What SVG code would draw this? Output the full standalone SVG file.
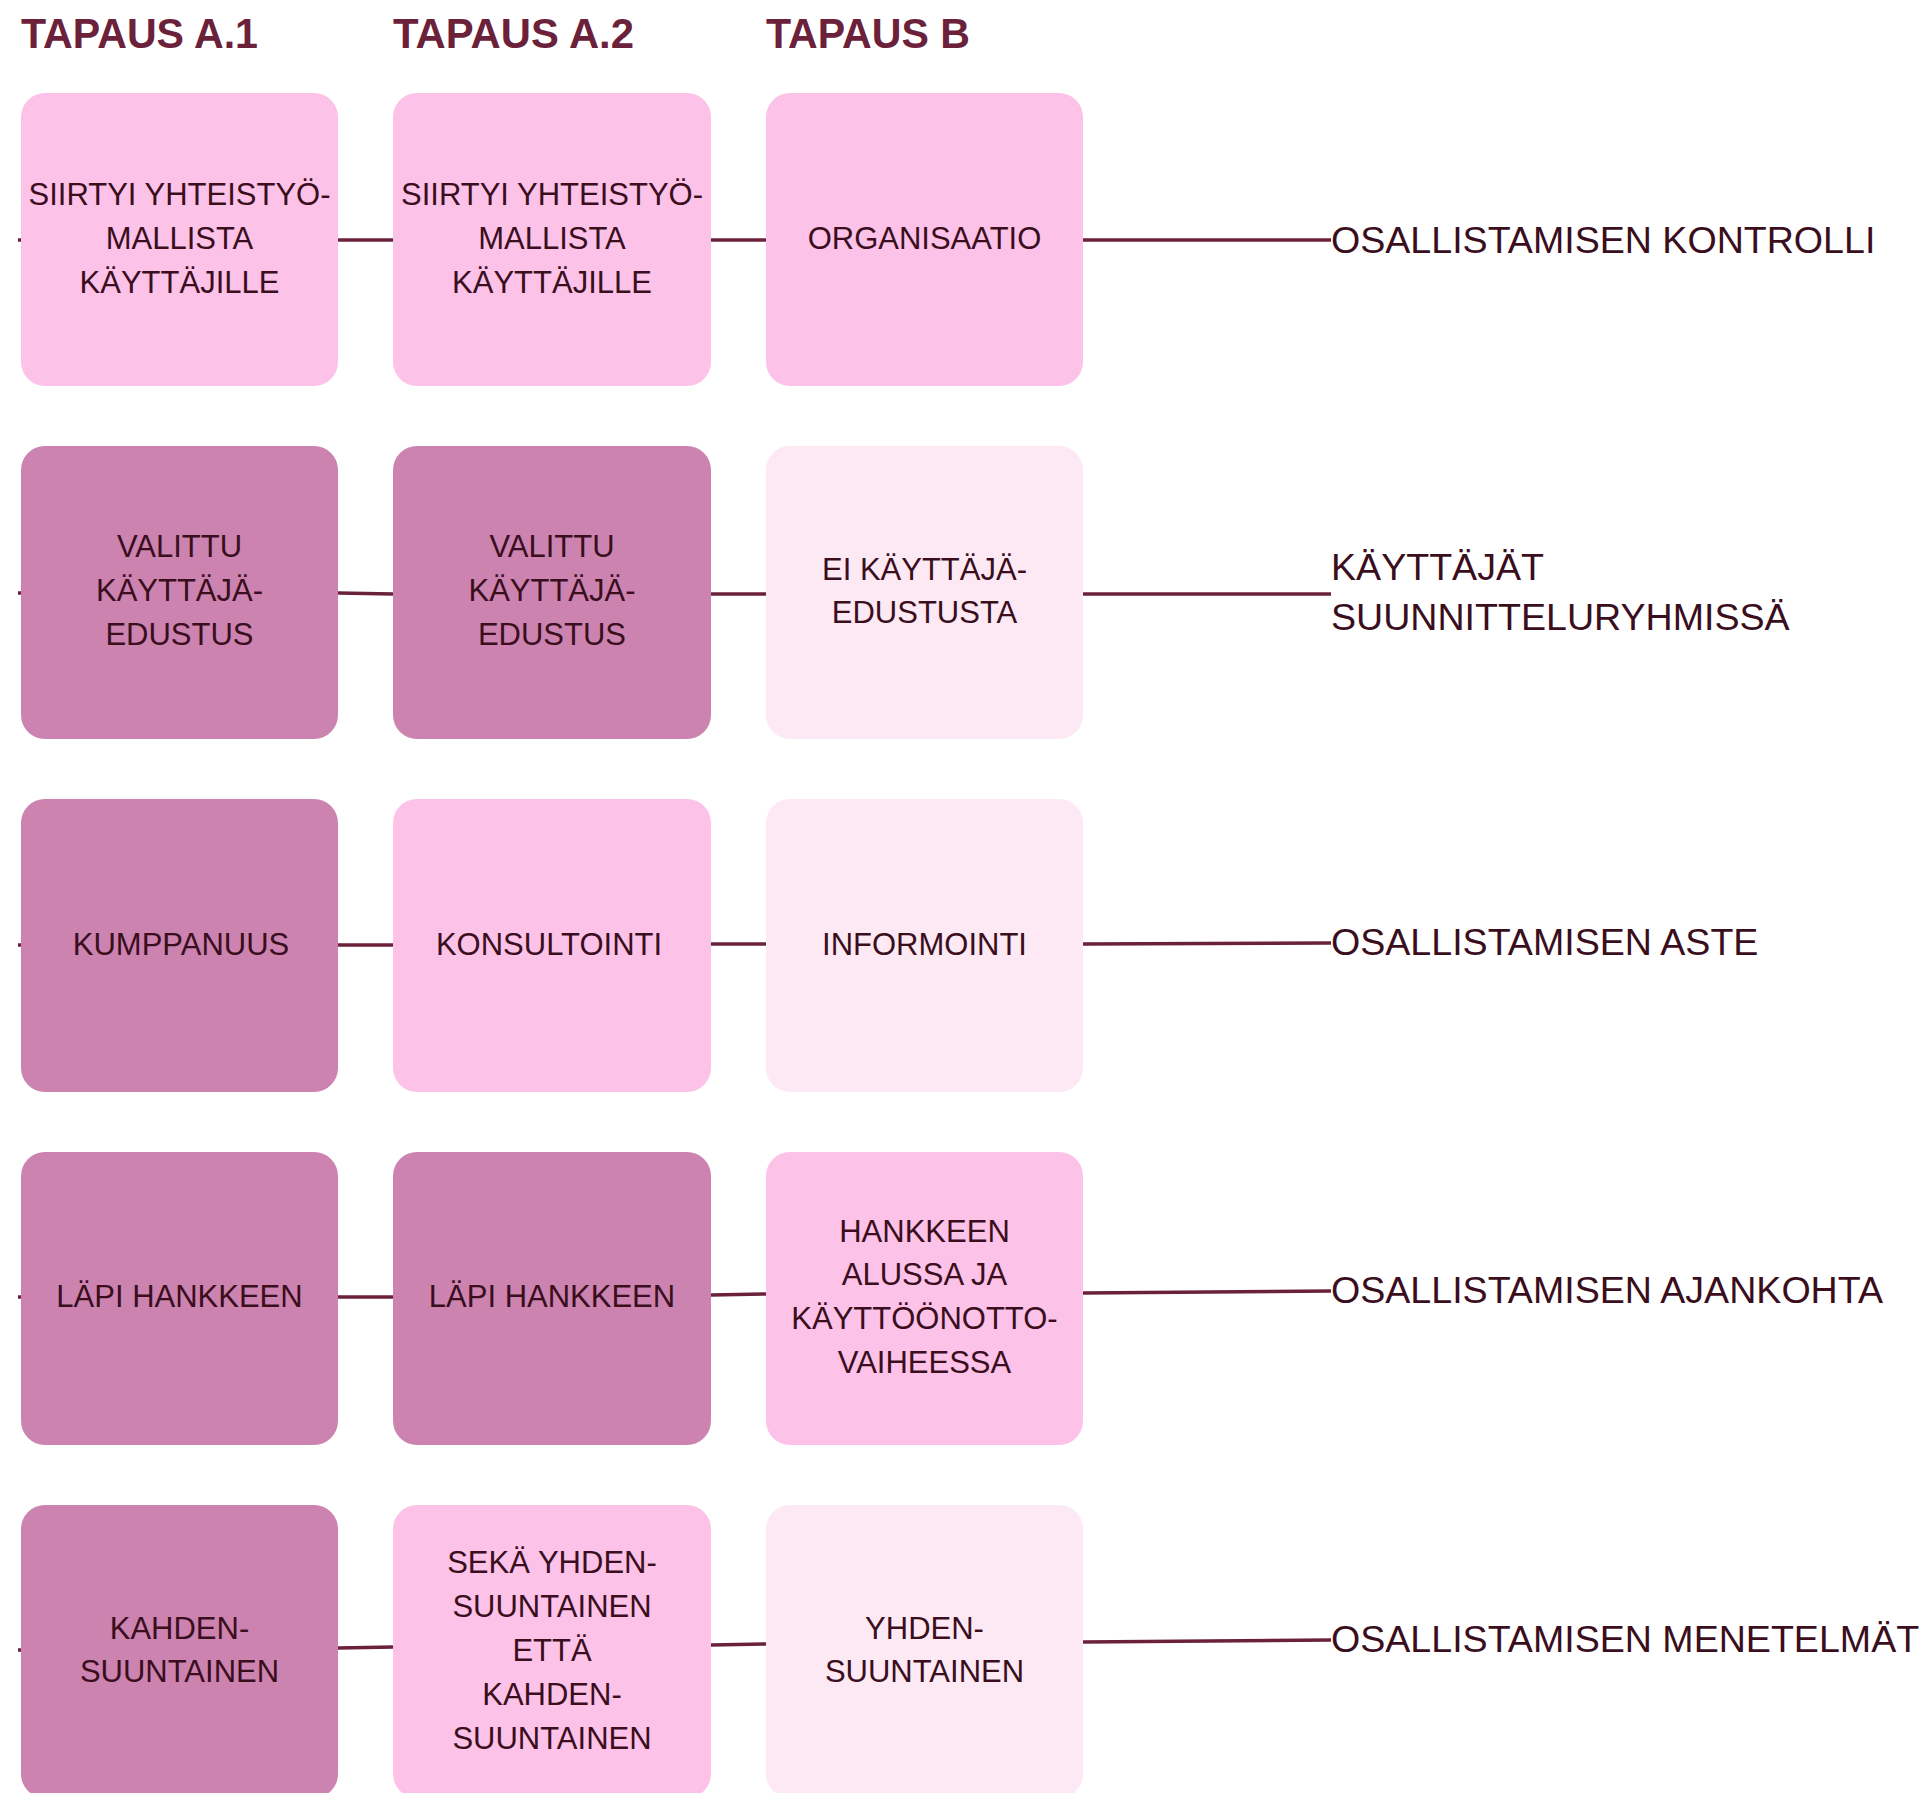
<svg xmlns="http://www.w3.org/2000/svg" width="1928" height="1793" viewBox="0 0 1928 1793">
  <style>
    .title { font-family: "Liberation Sans", Arial, sans-serif; font-weight: bold; font-size: 43px; fill: #6b2139; }
    .box { stroke: none; }
    .dark { fill: #cc83b0; }
    .mid { fill: #fdc2e8; }
    .light { fill: #fde9f4; }
    .t { font-family: "Liberation Sans", Arial, sans-serif; font-size: 31px; fill: #3a0e1d; text-anchor: middle; }
    .lab { font-family: "Liberation Sans", Arial, sans-serif; font-size: 37.6px; fill: #3a0e1d; }
    .conn line { stroke: #6b2139; stroke-width: 3.5; stroke-linecap: butt; }
  </style>
  <rect width="1928" height="1793" fill="#ffffff"/>

  <!-- column headings -->
  <g id="headings">
    <text class="title" x="21" y="48" textLength="237" lengthAdjust="spacingAndGlyphs">TAPAUS A.1</text>
    <text class="title" x="393" y="48" textLength="241" lengthAdjust="spacingAndGlyphs">TAPAUS A.2</text>
    <text class="title" x="766" y="48" textLength="204" lengthAdjust="spacingAndGlyphs">TAPAUS B</text>
  </g>

  <!-- connectors -->
  <g class="conn" id="connectors">
    <line x1="18" y1="240" x2="21" y2="240"/>
    <line x1="338" y1="240" x2="393" y2="240"/>
    <line x1="711" y1="240" x2="766" y2="240"/>
    <line x1="1083" y1="240" x2="1331" y2="240"/>

    <line x1="18" y1="593" x2="21" y2="593"/>
    <line x1="338" y1="593" x2="393" y2="594"/>
    <line x1="711" y1="594" x2="766" y2="594"/>
    <line x1="1083" y1="594" x2="1331" y2="594"/>

    <line x1="18" y1="945" x2="21" y2="945"/>
    <line x1="338" y1="945" x2="393" y2="945"/>
    <line x1="711" y1="944" x2="766" y2="944"/>
    <line x1="1083" y1="944" x2="1331" y2="943"/>

    <line x1="18" y1="1297" x2="21" y2="1297"/>
    <line x1="338" y1="1297" x2="393" y2="1297"/>
    <line x1="711" y1="1295" x2="766" y2="1294"/>
    <line x1="1083" y1="1293" x2="1331" y2="1291"/>

    <line x1="18" y1="1650" x2="21" y2="1650"/>
    <line x1="338" y1="1648" x2="393" y2="1647"/>
    <line x1="711" y1="1645" x2="766" y2="1644"/>
    <line x1="1083" y1="1642" x2="1331" y2="1640"/>
  </g>

  <!-- row 1 -->
  <g id="a1-kontrolli">
    <rect class="box mid" x="21" y="93" width="317" height="293" rx="24"/>
    <text class="t" x="179.5" y="205">SIIRTYI YHTEISTYÖ-</text>
    <text class="t" x="179.5" y="249">MALLISTA</text>
    <text class="t" x="179.5" y="293">KÄYTTÄJILLE</text>
  </g>
  <g id="a2-kontrolli">
    <rect class="box mid" x="393" y="93" width="318" height="293" rx="24"/>
    <text class="t" x="552" y="205">SIIRTYI YHTEISTYÖ-</text>
    <text class="t" x="552" y="249">MALLISTA</text>
    <text class="t" x="552" y="293">KÄYTTÄJILLE</text>
  </g>
  <g id="b-kontrolli">
    <rect class="box mid" x="766" y="93" width="317" height="293" rx="24"/>
    <text class="t" x="924.5" y="249">ORGANISAATIO</text>
  </g>
  <g id="label-kontrolli">
    <text class="lab" x="1331" y="253">OSALLISTAMISEN KONTROLLI</text>
  </g>

  <!-- row 2 -->
  <g id="a1-ryhmat">
    <rect class="box dark" x="21" y="446" width="317" height="293" rx="24"/>
    <text class="t" x="179.5" y="557">VALITTU</text>
    <text class="t" x="179.5" y="601">KÄYTTÄJÄ-</text>
    <text class="t" x="179.5" y="645">EDUSTUS</text>
  </g>
  <g id="a2-ryhmat">
    <rect class="box dark" x="393" y="446" width="318" height="293" rx="24"/>
    <text class="t" x="552" y="557">VALITTU</text>
    <text class="t" x="552" y="601">KÄYTTÄJÄ-</text>
    <text class="t" x="552" y="645">EDUSTUS</text>
  </g>
  <g id="b-ryhmat">
    <rect class="box light" x="766" y="446" width="317" height="293" rx="24"/>
    <text class="t" x="924.5" y="580">EI KÄYTTÄJÄ-</text>
    <text class="t" x="924.5" y="623">EDUSTUSTA</text>
  </g>
  <g id="label-ryhmat">
    <text class="lab" x="1331" y="580">KÄYTTÄJÄT</text>
    <text class="lab" x="1331" y="630">SUUNNITTELURYHMISSÄ</text>
  </g>

  <!-- row 3 -->
  <g id="a1-aste">
    <rect class="box dark" x="21" y="799" width="317" height="293" rx="24"/>
    <text class="t" x="181" y="955">KUMPPANUUS</text>
  </g>
  <g id="a2-aste">
    <rect class="box mid" x="393" y="799" width="318" height="293" rx="24"/>
    <text class="t" x="549" y="955">KONSULTOINTI</text>
  </g>
  <g id="b-aste">
    <rect class="box light" x="766" y="799" width="317" height="293" rx="24"/>
    <text class="t" x="924.5" y="955">INFORMOINTI</text>
  </g>
  <g id="label-aste">
    <text class="lab" x="1331" y="955">OSALLISTAMISEN ASTE</text>
  </g>

  <!-- row 4 -->
  <g id="a1-ajankohta">
    <rect class="box dark" x="21" y="1152" width="317" height="293" rx="24"/>
    <text class="t" x="179.5" y="1307">LÄPI HANKKEEN</text>
  </g>
  <g id="a2-ajankohta">
    <rect class="box dark" x="393" y="1152" width="318" height="293" rx="24"/>
    <text class="t" x="552" y="1307">LÄPI HANKKEEN</text>
  </g>
  <g id="b-ajankohta">
    <rect class="box mid" x="766" y="1152" width="317" height="293" rx="24"/>
    <text class="t" x="924.5" y="1242">HANKKEEN</text>
    <text class="t" x="924.5" y="1285">ALUSSA JA</text>
    <text class="t" x="924.5" y="1329">KÄYTTÖÖNOTTO-</text>
    <text class="t" x="924.5" y="1373">VAIHEESSA</text>
  </g>
  <g id="label-ajankohta">
    <text class="lab" x="1331" y="1303">OSALLISTAMISEN AJANKOHTA</text>
  </g>

  <!-- row 5 -->
  <g id="a1-menetelmat">
    <rect class="box dark" x="21" y="1505" width="317" height="293" rx="24"/>
    <text class="t" x="179.5" y="1639">KAHDEN-</text>
    <text class="t" x="179.5" y="1682">SUUNTAINEN</text>
  </g>
  <g id="a2-menetelmat">
    <rect class="box mid" x="393" y="1505" width="318" height="293" rx="24"/>
    <text class="t" x="552" y="1573">SEKÄ YHDEN-</text>
    <text class="t" x="552" y="1617">SUUNTAINEN</text>
    <text class="t" x="552" y="1661">ETTÄ</text>
    <text class="t" x="552" y="1705">KAHDEN-</text>
    <text class="t" x="552" y="1749">SUUNTAINEN</text>
  </g>
  <g id="b-menetelmat">
    <rect class="box light" x="766" y="1505" width="317" height="293" rx="24"/>
    <text class="t" x="924.5" y="1639">YHDEN-</text>
    <text class="t" x="924.5" y="1682">SUUNTAINEN</text>
  </g>
  <g id="label-menetelmat">
    <text class="lab" x="1331" y="1652">OSALLISTAMISEN MENETELMÄT</text>
  </g>
</svg>
